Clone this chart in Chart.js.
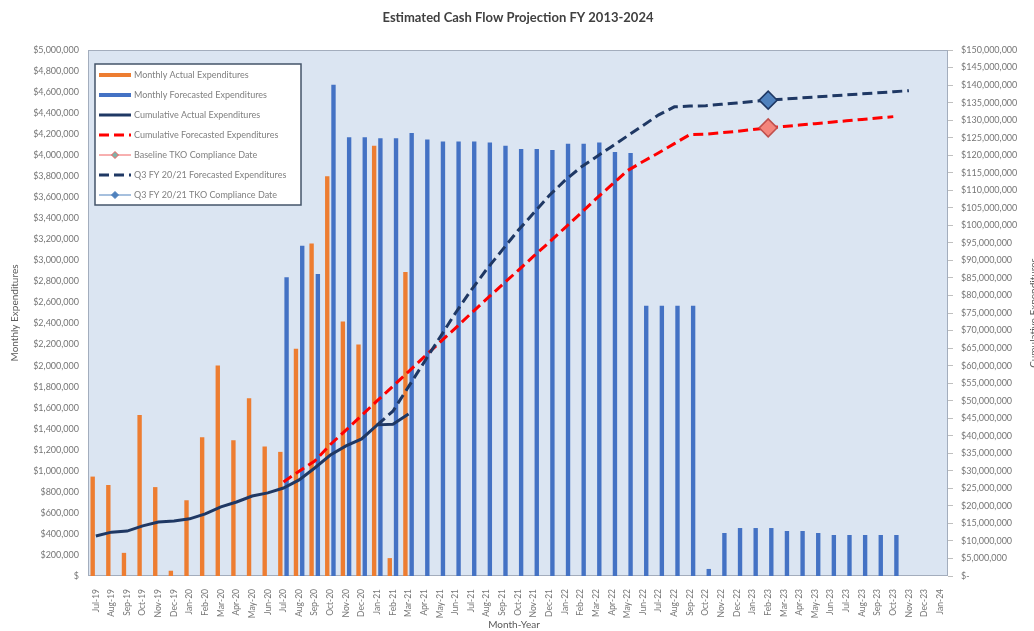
<!DOCTYPE html>
<html>
<head>
<meta charset="utf-8">
<script src="https://cdn.jsdelivr.net/npm/chart.js@4.4.1/dist/chart.umd.min.js"></script>
<style>
  html, body { margin: 0; padding: 0; background: #ffffff; }
  #wrap { width: 1034px; height: 631px; }
</style>
</head>
<body>
<div id="wrap"><canvas id="grafico" width="1034" height="631"></canvas></div>
<script>
// Categorias (Mes-Año)
const months = [
  "Jul-19","Aug-19","Sep-19","Oct-19","Nov-19","Dec-19",
  "Jan-20","Feb-20","Mar-20","Apr-20","May-20","Jun-20","Jul-20","Aug-20","Sep-20","Oct-20","Nov-20","Dec-20",
  "Jan-21","Feb-21","Mar-21","Apr-21","May-21","Jun-21","Jul-21","Aug-21","Sep-21","Oct-21","Nov-21","Dec-21",
  "Jan-22","Feb-22","Mar-22","Apr-22","May-22","Jun-22","Jul-22","Aug-22","Sep-22","Oct-22","Nov-22","Dec-22",
  "Jan-23","Feb-23","Mar-23","Apr-23","May-23","Jun-23","Jul-23","Aug-23","Sep-23","Oct-23","Nov-23","Dec-23",
  "Jan-24"
];

// Gasto mensual real (eje izquierdo)
const monthlyActual = [
  945000, 865000, 220000, 1530000, 845000, 50000,
  720000, 1320000, 2000000, 1290000, 1690000, 1230000, 1180000, 2160000, 3160000, 3800000, 2420000, 2200000,
  4090000, 170000, 2890000
];

// Gasto mensual pronosticado (eje izquierdo)
const monthlyForecast = [
  null, null, null, null, null, null,
  null, null, null, null, null, null, 2840000, 3140000, 2870000, 4670000, 4170000, 4170000,
  4160000, 4160000, 4210000, 4150000, 4130000, 4130000, 4130000, 4120000, 4090000, 4060000, 4060000, 4050000,
  4110000, 4110000, 4120000, 4030000, 4020000, 2570000, 2570000, 2570000, 2570000, 67000, 409000, 456000,
  456000, 456000, 428000, 428000, 409000, 390000, 390000, 390000, 390000, 390000, null, null,
  null
];

// Acumulado real (eje derecho)
const cumulativeActual = [
  11400000, 12500000, 12800000, 14300000, 15400000, 15700000,
  16300000, 17700000, 19700000, 21100000, 22800000, 23700000, 25100000, 27400000, 30800000, 34500000, 37100000, 39100000,
  43100000, 43300000, 46200000
];

// Acumulado pronosticado (linea base)
const cumulativeForecast = [
  null, null, null, null, null, null,
  null, null, null, null, null, null, 26800000, 29900000, 32800000, 37500000, 41600000, 45800000,
  50000000, 54100000, 58300000, 62500000, 66600000, 70700000, 74900000, 79000000, 83100000, 87100000, 91200000, 95200000,
  99300000, 103400000, 107600000, 111600000, 115600000, 118200000, 120700000, 123300000, 125900000, 126000000, 126400000, 126800000,
  127300000, 127800000, 128200000, 128600000, 129000000, 129400000, 129800000, 130200000, 130600000, 131000000, null, null,
  null
];

// Acumulado pronosticado Q3 FY 20/21
const q3Forecast = [
  null, null, null, null, null, null,
  null, null, null, null, null, null, null, null, null, null, null, null,
  43100000, 47000000, 54000000, 61000000, 68000000, 75000000, 81500000, 87500000, 93000000, 98500000, 103500000, 108500000,
  112800000, 116500000, 119500000, 122500000, 125500000, 128500000, 131500000, 133800000, 134000000, 134100000, 134500000, 134900000,
  135300000, 135700000, 136000000, 136300000, 136600000, 136900000, 137200000, 137500000, 137800000, 138100000, 138400000, null,
  null
];

// Fechas de cumplimiento TKO (un solo punto en Feb-23)
const baselineTKO = months.map(m => m === "Feb-23" ? 127800000 : null);
const q3TKO = months.map(m => m === "Feb-23" ? 135700000 : null);

// Etiquetas de los ejes
const leftTicks = [0, 200000, 400000, 600000, 800000, 1000000, 1200000, 1400000, 1600000, 1800000, 2000000,
  2200000, 2400000, 2600000, 2800000, 3000000, 3200000, 3400000, 3600000, 3800000, 4000000, 4200000,
  4400000, 4600000, 4800000, 5000000];
const rightTicks = [0, 5000000, 10000000, 15000000, 20000000, 25000000, 30000000, 35000000, 40000000, 45000000,
  50000000, 55000000, 60000000, 65000000, 70000000, 75000000, 80000000, 85000000, 90000000, 95000000,
  100000000, 105000000, 110000000, 115000000, 120000000, 125000000, 130000000, 135000000, 140000000,
  145000000, 150000000];

const FONT = "Lato, 'Open Sans', sans-serif";
const ORANGE = "#ED7D31";
const BLUE = "#4472C4";
const NAVY = "#1F3864";
const RED = "#FF0000";

const money = v => v === 0 ? "$-" : "$" + v.toLocaleString("en-US");

// Fondo del area de grafica y titulos
const fondo = {
  id: "fondo",
  beforeDatasetsDraw(chart) {
    const { ctx, chartArea: a } = chart;
    ctx.save();
    ctx.fillStyle = "#DBE5F2";
    ctx.fillRect(a.left, a.top, a.right - a.left, a.bottom - a.top);
    ctx.strokeStyle = "#A3ADBD";
    ctx.lineWidth = 1;
    ctx.strokeRect(a.left + 0.5, a.top + 0.5, a.right - a.left - 1, a.bottom - a.top - 1);
    ctx.restore();
  },
  afterDraw(chart) {
    const { ctx, chartArea: a } = chart;
    const cx = (a.left + a.right) / 2;
    const cy = (a.top + a.bottom) / 2;
    ctx.save();
    ctx.fillStyle = "#404040";
    ctx.textAlign = "center";
    ctx.textBaseline = "middle";
    ctx.font = "bold 13px " + FONT;
    ctx.fillText("Estimated Cash Flow Projection FY 2013-2024", cx, 18);
    ctx.fillStyle = "#595959";
    ctx.font = "10px " + FONT;
    ctx.fillText("Month-Year", cx - 4, 625);
    ctx.translate(15, cy);
    ctx.rotate(-Math.PI / 2);
    ctx.fillText("Monthly Expenditures", 0, 0);
    ctx.restore();
    ctx.save();
    ctx.fillStyle = "#595959";
    ctx.textAlign = "center";
    ctx.textBaseline = "middle";
    ctx.font = "10px " + FONT;
    ctx.translate(1034, cy);
    ctx.rotate(-Math.PI / 2);
    ctx.fillText("Cumulative Expenditures", 0, 0);
    ctx.restore();
  }
};

// Leyenda dentro del area de grafica
const leyenda = {
  id: "leyenda",
  afterDatasetsDraw(chart) {
    const ctx = chart.ctx;
    const x = 95, y = 64, w = 206, h = 141;
    ctx.save();
    ctx.fillStyle = "#ffffff";
    ctx.fillRect(x, y, w, h);
    ctx.strokeStyle = "#44546A";
    ctx.lineWidth = 1.5;
    ctx.strokeRect(x, y, w, h);
    ctx.font = "9px " + FONT;
    ctx.textBaseline = "middle";
    chart.data.datasets.forEach((ds, i) => {
      const ly = y + 11 + i * 20;
      const s = ds.legendStyle;
      ctx.save();
      ctx.strokeStyle = s.color;
      ctx.lineWidth = s.width;
      ctx.setLineDash(s.dash || []);
      ctx.beginPath();
      ctx.moveTo(x + 4, ly);
      ctx.lineTo(x + 36, ly);
      ctx.stroke();
      if (s.marker) {
        ctx.setLineDash([]);
        ctx.fillStyle = s.marker;
        ctx.strokeStyle = s.color;
        ctx.lineWidth = 1;
        ctx.beginPath();
        ctx.moveTo(x + 20, ly - 3.5);
        ctx.lineTo(x + 23.5, ly);
        ctx.lineTo(x + 20, ly + 3.5);
        ctx.lineTo(x + 16.5, ly);
        ctx.closePath();
        ctx.fill();
        ctx.stroke();
      }
      ctx.restore();
      ctx.fillStyle = "#808080";
      ctx.fillText(ds.label, x + 39, ly);
    });
    ctx.restore();
  }
};

const ctx = document.getElementById("grafico").getContext("2d");
new Chart(ctx, {
  data: {
    labels: months,
    datasets: [
      {
        type: "bar", label: "Monthly Actual Expenditures", data: monthlyActual,
        backgroundColor: ORANGE, yAxisID: "y", order: 10,
        categoryPercentage: 0.8, barPercentage: 0.7,
        legendStyle: { color: ORANGE, width: 4 }
      },
      {
        type: "bar", label: "Monthly Forecasted Expenditures", data: monthlyForecast,
        backgroundColor: BLUE, yAxisID: "y", order: 10,
        categoryPercentage: 0.8, barPercentage: 0.7,
        legendStyle: { color: BLUE, width: 4 }
      },
      {
        type: "line", label: "Cumulative Actual Expenditures", data: cumulativeActual,
        borderColor: NAVY, borderWidth: 3, pointRadius: 0, yAxisID: "y2", order: 3,
        legendStyle: { color: NAVY, width: 3 }
      },
      {
        type: "line", label: "Cumulative Forecasted Expenditures", data: cumulativeForecast,
        borderColor: RED, borderWidth: 3, borderDash: [10, 5], pointRadius: 0, yAxisID: "y2", order: 2,
        legendStyle: { color: RED, width: 3, dash: [10, 5] }
      },
      {
        type: "line", label: "Baseline TKO Compliance Date", data: baselineTKO,
        borderColor: "#C00000", borderWidth: 1.5, pointStyle: "rectRot", pointRadius: 9,
        pointBackgroundColor: "#F4857C", pointBorderColor: "#C0504D", yAxisID: "y2", order: 0,
        legendStyle: { color: "#F06060", width: 1, marker: "#7FB2A8" }
      },
      {
        type: "line", label: "Q3 FY 20/21 Forecasted Expenditures", data: q3Forecast,
        borderColor: NAVY, borderWidth: 3, borderDash: [10, 5], pointRadius: 0, yAxisID: "y2", order: 1,
        legendStyle: { color: NAVY, width: 3, dash: [10, 5] }
      },
      {
        type: "line", label: "Q3 FY 20/21 TKO Compliance Date", data: q3TKO,
        borderColor: NAVY, borderWidth: 1.5, pointStyle: "rectRot", pointRadius: 9,
        pointBackgroundColor: "#4F81BD", pointBorderColor: NAVY, yAxisID: "y2", order: 0,
        legendStyle: { color: "#4F81BD", width: 1, marker: "#4F81BD" }
      }
    ]
  },
  options: {
    responsive: false,
    animation: false,
    devicePixelRatio: 1,
    layout: { padding: { top: 50, left: 0, right: 0, bottom: 0 } },
    plugins: {
      legend: { display: false },
      title: { display: false },
      tooltip: { enabled: false }
    },
    scales: {
      x: {
        grid: { display: false },
        border: { display: false },
        ticks: {
          autoSkip: false, minRotation: 90, maxRotation: 90, padding: 5,
          color: "#767676", font: { family: FONT, size: 8.5 }
        },
        afterFit(scale) { scale.height = 55; }
      },
      y: {
        position: "left", min: 0, max: 5000000,
        afterBuildTicks(scale) { scale.ticks = leftTicks.map(v => ({ value: v })); },
        grid: { display: false, drawTicks: false },
        border: { display: false },
        ticks: {
          padding: 9, color: "#767676", font: { family: FONT, size: 9 },
          callback: v => v === 0 ? "$" : "$" + v.toLocaleString("en-US")
        },
        afterFit(scale) { scale.width = 88; }
      },
      y2: {
        position: "right", min: 0, max: 150000000,
        afterBuildTicks(scale) { scale.ticks = rightTicks.map(v => ({ value: v })); },
        grid: { drawOnChartArea: false, drawTicks: true, tickLength: 5, color: "#BFBFBF" },
        border: { display: false },
        ticks: {
          padding: 8, color: "#767676", font: { family: FONT, size: 9 },
          callback: v => money(v)
        },
        afterFit(scale) { scale.width = 86; }
      }
    }
  },
  plugins: [fondo, leyenda]
});
</script>
</body>
</html>
